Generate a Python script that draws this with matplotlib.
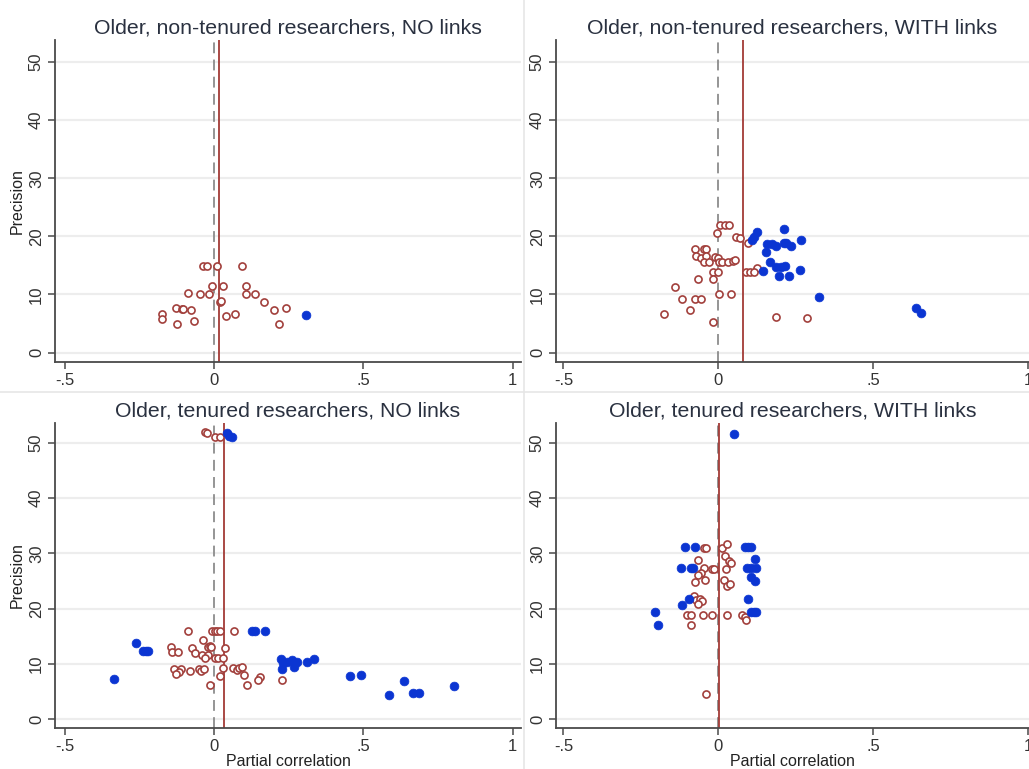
import matplotlib
matplotlib.use("Agg")
import matplotlib.pyplot as plt
from matplotlib.lines import Line2D

plt.rcParams["font.family"] = ["Liberation Sans", "DejaVu Sans"]

# ── data ─────────────────────────────────────────────────────────────────────
titles = [
    "Older, non-tenured researchers, NO links",
    "Older, non-tenured researchers, WITH links",
    "Older, tenured researchers, NO links",
    "Older, tenured researchers, WITH links",
]
x_ticks = [-0.5, 0, 0.5, 1]
x_tick_labels = ["-.5", "0", ".5", "1"]
y_ticks = [0, 10, 20, 30, 40, 50]

# panel 1: non-tenured, no links
p1_open_x = [-0.037, -0.024, 0.011, 0.095, -0.006, 0.031, 0.107, -0.087, -0.046,
             -0.017, 0.107, 0.138, 0.020, 0.022, 0.168, -0.129, -0.109, -0.105,
             -0.078, 0.202, 0.242, -0.173, -0.173, -0.126, -0.067, 0.039, 0.070,
             0.217]
p1_open_y = [14.9, 14.9, 14.9, 14.9, 11.4, 11.5, 11.5, 10.2, 10.1,
             10.1, 10.1, 10.1, 8.7, 8.8, 8.7, 7.7, 7.5, 7.5,
             7.3, 7.3, 7.7, 6.7, 5.7, 4.9, 5.5, 6.3, 6.6,
             4.9]
p1_fill_x = [0.308]
p1_fill_y = [6.5]
p1_mean = 0.018

# panel 2: non-tenured, with links
p2_open_x = [0.006, 0.020, 0.035, -0.004, 0.057, 0.071, 0.096, -0.075, -0.047,
             -0.040, -0.072, -0.057, -0.040, -0.045, -0.032, -0.011, -0.001,
             0.003, 0.010, 0.030, 0.046, 0.054, 0.125, -0.016, 0.000, 0.089,
             0.103, 0.116, -0.065, -0.016, -0.139, -0.118, -0.075, -0.055,
             0.003, 0.042, -0.091, -0.177, -0.017, 0.185, 0.287]
p2_open_y = [21.9, 21.9, 21.9, 20.6, 19.9, 19.8, 18.8, 17.9, 17.8,
             17.8, 16.6, 16.3, 16.6, 15.6, 15.6, 16.4, 16.3,
             15.6, 15.6, 15.6, 15.8, 16.0, 14.6, 13.9, 13.9, 13.9,
             13.9, 13.9, 12.6, 12.6, 11.3, 9.2, 9.2, 9.2,
             10.1, 10.1, 7.4, 6.6, 5.2, 6.2, 5.9]
p2_fill_x = [0.211, 0.124, 0.116, 0.108, 0.266, 0.157, 0.173, 0.186, 0.210,
             0.218, 0.234, 0.152, 0.165, 0.185, 0.203, 0.216, 0.263, 0.143,
             0.194, 0.227, 0.323, 0.638, 0.652]
p2_fill_y = [21.3, 20.7, 19.9, 19.4, 19.3, 18.7, 18.7, 18.4, 18.8,
             18.9, 18.4, 17.3, 15.6, 14.7, 14.7, 14.9, 14.2, 14.0,
             13.1, 13.2, 9.6, 7.6, 6.8]
p2_mean = 0.079

# panel 3: tenured, no links
p3_open_x = [-0.030, -0.024, 0.003, 0.020,
             -0.087, -0.008, 0.002, 0.010, 0.019, 0.067, -0.036, -0.145, -0.073,
             -0.020, -0.015, -0.010, 0.036, -0.140, -0.121, -0.065, -0.041,
             -0.020, -0.030, 0.003, 0.013, 0.030, -0.133, -0.110, -0.118,
             -0.129, -0.080, -0.050, -0.045, -0.034, 0.030, 0.064, 0.077,
             0.084, 0.095, 0.100, 0.154, 0.148, 0.019, -0.013, 0.111, 0.226]
p3_open_y = [51.9, 51.7, 51.0, 51.0,
             15.9, 15.9, 15.9, 15.9, 15.9, 15.9, 14.3, 13.1, 12.9,
             13.0, 13.2, 13.0, 12.9, 12.2, 12.1, 11.9, 11.6,
             11.6, 11.1, 11.1, 11.1, 11.1, 9.0, 9.0, 8.5,
             8.1, 8.7, 9.0, 8.7, 9.1, 9.2, 9.3, 8.9,
             9.3, 9.5, 8.0, 7.6, 7.1, 7.8, 6.1, 6.1, 7.1]
p3_fill_x = [0.043, 0.050, 0.060,
             -0.337, -0.261, -0.239, -0.228, -0.220, 0.126, 0.137, 0.170,
             0.224, 0.232, 0.226, 0.243, 0.260, 0.268, 0.277, 0.311, 0.335,
             0.455, 0.492, 0.587, 0.637, 0.667, 0.686, 0.804]
p3_fill_y = [51.8, 51.2, 51.0,
             7.3, 13.7, 12.4, 12.3, 12.3, 16.0, 16.0, 16.0,
             10.8, 10.1, 9.1, 10.3, 10.6, 9.4, 10.3, 10.4, 10.9,
             7.7, 7.9, 4.4, 6.9, 4.7, 4.7, 6.0]
p3_mean = 0.032

# panel 4: tenured, with links
p4_open_x = [-0.048, -0.040, 0.013, 0.027, -0.066, 0.020, 0.033, 0.039, -0.046,
             -0.020, -0.013, 0.023, -0.055, -0.067, -0.042, -0.076, 0.017,
             0.029, 0.038, -0.080, -0.072, -0.061, -0.053, -0.066, -0.102,
             -0.089, -0.090, -0.051, -0.020, 0.027, 0.075, 0.085, 0.089,
             -0.040]
p4_open_y = [31.0, 31.0, 30.9, 31.7, 28.8, 29.5, 28.7, 28.3, 27.3,
             27.2, 27.2, 27.2, 26.5, 26.1, 25.2, 24.8, 25.2,
             24.1, 24.5, 22.3, 21.6, 21.7, 21.4, 20.8, 18.9,
             18.8, 17.1, 18.8, 18.8, 18.8, 18.9, 18.4, 17.9,
             4.6]
p4_fill_x = [0.049, -0.108, -0.076, 0.085, 0.096, 0.106, 0.117, -0.122, -0.088,
             -0.081, 0.091, 0.106, 0.122, 0.104, 0.117, -0.094, -0.117, 0.096,
             0.105, 0.114, 0.122, -0.205, -0.195]
p4_fill_y = [51.6, 31.1, 31.1, 31.1, 31.1, 31.1, 29.0, 27.4, 27.4,
             27.4, 27.4, 27.4, 27.4, 25.8, 24.9, 21.7, 20.6, 21.7,
             19.3, 19.3, 19.3, 19.3, 17.0]
p4_mean = 0.002

# ── layout ───────────────────────────────────────────────────────────────────
W, H = 1029, 769
OPEN_COL = "#a2403c"
FILL_COL = "#0b35d2"
MEAN_COL = "#a23a36"
AXIS_COL = "#4a4a4a"


def px_rect(left, top, right, bottom):
    return [left / W, 1 - bottom / H, (right - left) / W, (bottom - top) / H]


panels = [
    (titles[0], p1_open_x, p1_open_y, p1_fill_x, p1_fill_y, p1_mean,
     px_rect(55, 40, 521, 362), (-0.533, 1.028), (-1.63, 53.8), True, False),
    (titles[1], p2_open_x, p2_open_y, p2_fill_x, p2_fill_y, p2_mean,
     px_rect(556, 40, 1029, 362), (-0.524, 1.002), (-1.63, 53.8), False, False),
    (titles[2], p3_open_x, p3_open_y, p3_fill_x, p3_fill_y, p3_mean,
     px_rect(55, 423, 521, 728), (-0.533, 1.028), (-1.63, 53.6), True, True),
    (titles[3], p4_open_x, p4_open_y, p4_fill_x, p4_fill_y, p4_mean,
     px_rect(556, 423, 1029, 728), (-0.524, 1.002), (-1.63, 53.6), False, True),
]

fig = plt.figure(figsize=(W / 100, H / 100), dpi=100)
fig.patch.set_facecolor("white")

# faint separators between sub-graphs
fig.add_artist(Line2D([524 / W, 524 / W], [0, 1], color="#e6e6e6", lw=1.2))
fig.add_artist(Line2D([0, 1], [1 - 392 / H, 1 - 392 / H], color="#e6e6e6", lw=1.2))

for (title, ox, oy, fx, fy, mean_x, rect, xlim, ylim, ylab, xlab) in panels:
    ax = fig.add_axes(rect)
    ax.set_xlim(*xlim)
    ax.set_ylim(*ylim)
    for y in y_ticks:
        ax.axhline(y, color="#ededed", lw=1.6, zorder=0)
    ax.axvline(0, color="#8c8c8c", lw=1.3, ls=(0, (6, 3.5)), zorder=1)
    ax.axvline(mean_x, color=MEAN_COL, lw=1.3, zorder=2)
    ax.scatter(ox, oy, s=26, facecolors="white", edgecolors=OPEN_COL,
               linewidths=1.2, zorder=3)
    ax.scatter(fx, fy, s=40, color=FILL_COL, edgecolors=FILL_COL,
               linewidths=0.5, zorder=4)

    ax.set_xticks(x_ticks)
    ax.set_xticklabels(x_tick_labels)
    ax.set_yticks(y_ticks)
    ax.set_yticklabels([str(v) for v in y_ticks], rotation=90, va="center")
    ax.tick_params(axis="both", labelsize=12, color=AXIS_COL, length=5,
                   width=1.1, labelcolor="#333333", pad=3)
    for side in ("top", "right"):
        ax.spines[side].set_visible(False)
    for side in ("left", "bottom"):
        ax.spines[side].set_color(AXIS_COL)
        ax.spines[side].set_linewidth(1.3)
    ax.set_title(title, fontsize=15.3, color="#2a3140", pad=5)
    if ylab:
        ax.set_ylabel("Precision", fontsize=11.5, color="#222222", labelpad=3)
    if xlab:
        ax.set_xlabel("Partial correlation", fontsize=11.5, color="#222222",
                      labelpad=0)

fig.savefig("out.png", dpi=100, facecolor=fig.get_facecolor())
plt.close(fig)
